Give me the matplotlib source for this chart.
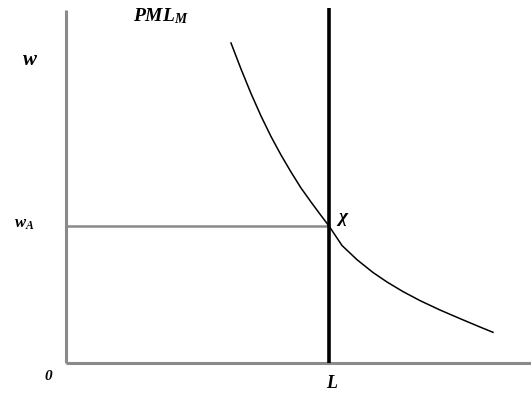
import matplotlib
matplotlib.use("Agg")
import matplotlib.pyplot as plt

plt.rcParams["mathtext.fontset"] = "custom"
plt.rcParams["mathtext.it"] = "Liberation Serif:bold:italic"
plt.rcParams["mathtext.rm"] = "Liberation Serif:bold:italic"
plt.rcParams["mathtext.default"] = "it"

# Labour-market diagram: PML_M demand curve, fixed labour supply L, wage w_A
L_supply = 263
w_A = 137
w_level = 303
curve_x = [165, 175, 185, 195, 205, 215, 225, 235, 245, 255, 263,
           276, 291, 307, 321, 337, 354, 374, 394, 414, 427]
curve_y = [320, 294, 269.5, 247, 226.5, 208, 191, 175, 161, 147.5, 137,
           117.5, 103.3, 90.5, 81, 71.4, 62.4, 53, 44.4, 36, 30.7]

fig = plt.figure(figsize=(5.31, 3.93), dpi=100)
ax = fig.add_axes([66 / 531, 30 / 393, 465 / 531, 363 / 393])
ax.set_xlim(0, 465)
ax.set_ylim(0, 363)
ax.axis("off")

axis_col = "#8a8a8a"
ax.plot([0, 0], [0, 353], color=axis_col, lw=2.2, solid_capstyle="butt", clip_on=False)
ax.plot([0, 465], [0, 0], color=axis_col, lw=2.2, solid_capstyle="butt", clip_on=False)

# wage line and labour supply line
ax.plot([0, L_supply], [w_A, w_A], color=axis_col, lw=1.8, solid_capstyle="butt")
ax.plot([L_supply, L_supply], [0, 355], color="black", lw=2.6, solid_capstyle="butt",
        clip_on=False)

# demand curve
ax.plot(curve_x, curve_y, color="black", lw=1.1, solid_joinstyle="round")

font = dict(family="Liberation Serif", weight="bold", style="italic", color="black",
            clip_on=False)
ax.text(-36, w_level, "w", fontsize=15, ha="center", va="center", **font)
ax.text(-42, w_A + 2, r"w$_A$", fontsize=12, ha="center", va="center", **font)
ax.text(-18, -14, "0", fontsize=11, ha="center", va="center", **font)
ax.text(L_supply + 3, -21, "L", fontsize=13, ha="center", va="center", **font)
ax.text(67, 347, r"PML$_M$", fontsize=14, ha="left", va="center", **font)
ax.text(L_supply + 14, w_A + 9, "χ", fontsize=14, ha="center", va="center", **font)

fig.savefig("out.png", dpi=100)
